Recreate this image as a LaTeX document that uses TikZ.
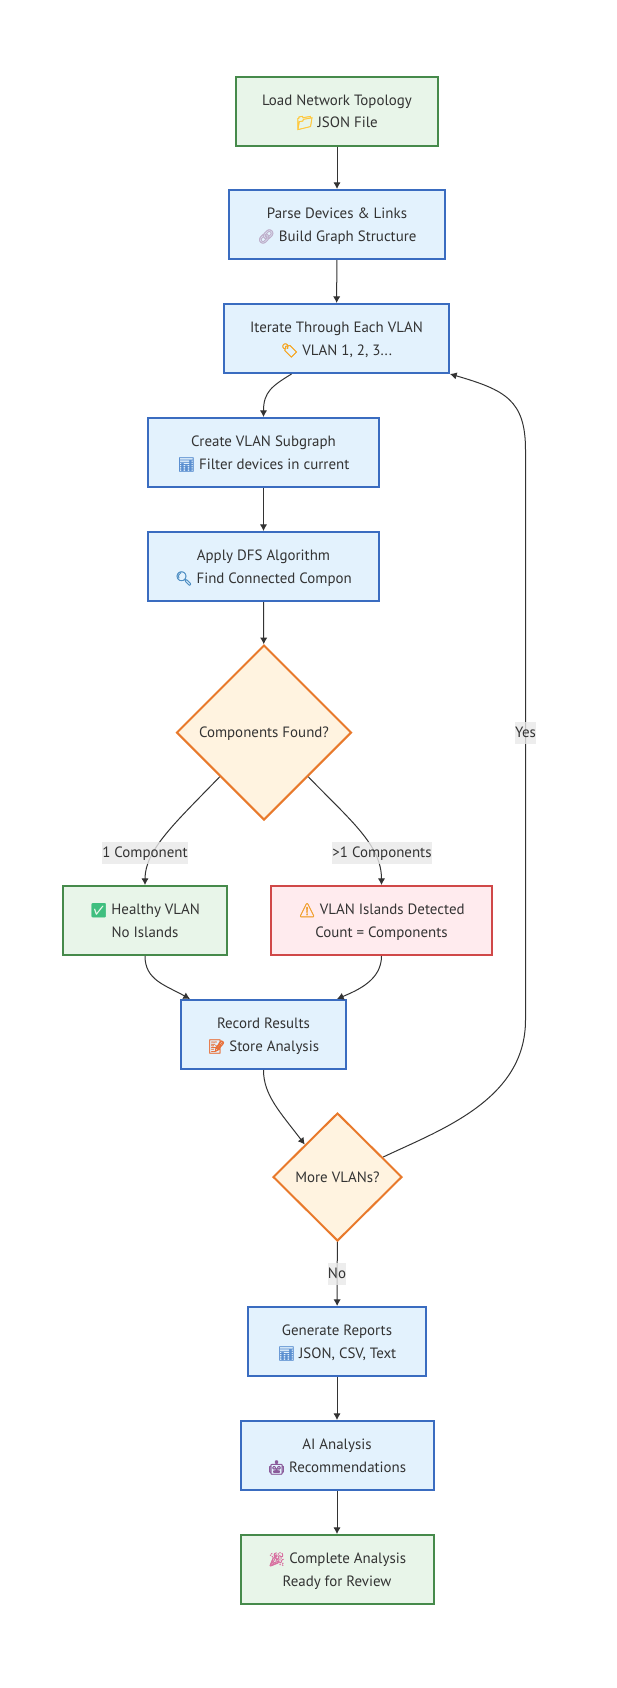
\documentclass[tikz,border=0pt]{standalone}
\usepackage{xcolor}
\usepackage{fontspec}
\usepackage{tikz}
\usetikzlibrary{calc}
\usetikzlibrary{arrows.meta}
\usetikzlibrary{shapes.geometric}
\setmainfont{PT Sans}
\newfontfamily\emojifont[Scale=.92, FakeBold=2.5]{Noto Emoji}
\newcommand{\emo}[2]{{\emojifont\textcolor[HTML]{#1}{#2}}}
\definecolor{inkgrey}{HTML}{333333}
\definecolor{bluefill}{HTML}{E3F2FD}
\definecolor{blueline}{HTML}{3A6CC0}
\definecolor{greenfill}{HTML}{E8F5E9}
\definecolor{greenline}{HTML}{468A4B}
\definecolor{redfill}{HTML}{FFEBEE}
\definecolor{redline}{HTML}{D04848}
\definecolor{orangefill}{HTML}{FFF3E0}
\definecolor{orangeline}{HTML}{E8792B}
\definecolor{labelfill}{HTML}{E8E8E8}
\tikzstyle{every node}=[font=\fontsize{11.2pt}{16.7pt}\selectfont, text=inkgrey]
\tikzstyle{flowbox}=[draw, rectangle, minimum height=51.75pt, line width=1.5pt, align=center, inner sep=0pt, text height=28pt, text depth=3pt]
\tikzstyle{bluebox}=[flowbox, draw=blueline, fill=bluefill]
\tikzstyle{greenbox}=[flowbox, draw=greenline, fill=greenfill]
\tikzstyle{redbox}=[flowbox, draw=redline, fill=redfill]
\tikzstyle{decision}=[draw=orangeline, fill=orangefill, diamond, aspect=1, line width=1.5pt, inner sep=0pt, text height=10.8pt, text depth=3pt]
\tikzstyle{edgelabel}=[fill=labelfill, fill opacity=.8, text opacity=1, inner sep=0pt, minimum height=16.5pt, text height=9.4pt, text depth=3pt]
\tikzstyle{link}=[->, inkgrey, line width=.75pt]

\begin{document}
\begin{tikzpicture}[>={Latex[length=5pt, width=5.5pt]}, x=.75pt, y=-.75pt]
    \useasboundingbox (0, 0) rectangle (617, 1688);

    \node [greenbox, minimum width=151.5pt] (load) at (337, 111) {Load Network Topology\\\emo{FFC83D}{📁}\ JSON File};
    \node [bluebox, minimum width=162pt] (parse) at (337, 224.5) {Parse Devices \& Links\\\emo{BFB0CC}{🔗}\ Build Graph Structure};
    \node [bluebox, minimum width=168.75pt] (iterate) at (336.5, 338.5) {Iterate Through Each VLAN\\\emo{F5A623}{🏷}\ VLAN 1, 2, 3...};
    \node [bluebox, minimum width=173.25pt] (create) at (263.5, 452.5) {Create VLAN Subgraph\\\emo{5B8FD0}{📊}\ Filter devices in current};
    \node [bluebox, minimum width=173.25pt] (apply) at (263.5, 566.5) {Apply DFS Algorithm\\\emo{4F8FC4}{🔍}\ Find Connected Compon};
    \node [decision, minimum width=131.25pt, minimum height=131.25pt] (found) at (264, 732.5) {Components Found?};
    \node [greenbox, minimum width=123pt] (healthy) at (145, 920.5) {\emo{3FBF7F}{✅}\ Healthy VLAN\\No Islands};
    \node [redbox, minimum width=165.75pt] (islands) at (381.5, 920.5) {\emo{F0A030}{⚠}\ VLAN Islands Detected\\Count = Components};
    \node [bluebox, minimum width=123.75pt] (record) at (263.5, 1034.5) {Record Results\\\emo{E8703A}{📝}\ Store Analysis};
    \node [decision, minimum width=96.75pt, minimum height=96pt] (more) at (337.5, 1177) {More VLANs?};
    \node [bluebox, minimum width=133.5pt] (reports) at (337, 1341.5) {Generate Reports\\\emo{5B8FD0}{📊}\ JSON, CSV, Text};
    \node [bluebox, minimum width=144.75pt] (ai) at (337, 1455.5) {AI Analysis\\\emo{8A5A9A}{🤖}\ Recommendations};
    \node [greenbox, minimum width=144.75pt] (complete) at (337, 1569.5) {\emo{D86FA0}{🎉}\ Complete Analysis\\Ready for Review};

    \draw [link] (load) -- (parse);
    \draw [link] (parse) -- (iterate);
    \draw [link] ($(iterate.south)+(-45, 0)$) .. controls (272, 386) and (263.5, 392) .. (create.north);
    \draw [link] (create) -- (apply);
    \draw [link] (apply) -- (found);
    \draw [link] (found.south west) .. controls (175, 823) and (145, 850) .. (healthy.north);
    \draw [link] (found.south east) .. controls (350, 820) and (381.5, 845) .. (islands.north);
    \draw [link] (healthy.south) .. controls (145, 980) and (165, 985) .. ($(record.north)+(-73.5, 0)$);
    \draw [link] (islands.south) .. controls (381.5, 980) and (358, 990) .. ($(record.north)+(73.5, 0)$);
    \draw [link] (record.south) .. controls (263.5, 1095) and (280, 1112) .. (more.north west);
    \draw [link] ($(more.north east)+(13, 12.5)$) .. controls (440, 1130) and (525.5, 1100) .. (525.5, 1020) -- (525.5, 450) .. controls (525.5, 400) and (505, 390) .. (iterate.south east);
    \draw [link] (more) -- (reports);
    \draw [link] (reports) -- (ai);
    \draw [link] (ai) -- (complete);

    \node [edgelabel, minimum width=63pt] (onelabel) at (145, 853) {1 Component};
    \node [edgelabel, minimum width=73.5pt] (manylabel) at (382, 853) {>1 Components};
    \node [edgelabel, minimum width=15.5pt] (yeslabel) at (525.5, 733) {Yes};
    \node [edgelabel, minimum width=13.5pt] (nolabel) at (337, 1274) {No};
\end{tikzpicture}
\end{document}
